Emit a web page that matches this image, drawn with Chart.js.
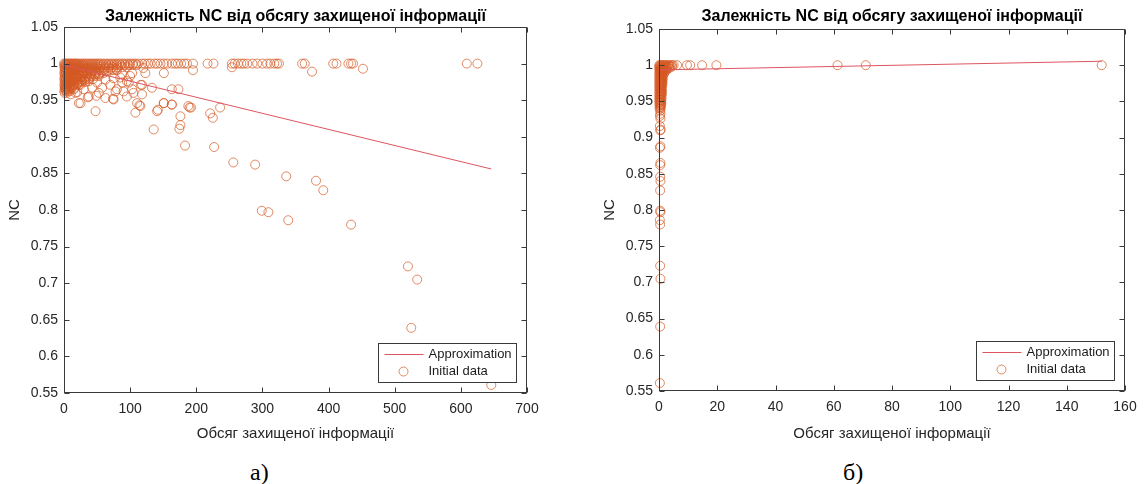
<!DOCTYPE html>
<html>
<head>
<meta charset="utf-8">
<script src="https://cdn.jsdelivr.net/npm/chart.js@4.4.0/dist/chart.umd.min.js"></script>
<style>
  body { margin: 0; background: #fff; width: 1147px; height: 484px; position: relative; overflow: hidden; }
  .box { position: absolute; top: 0; height: 448px; }
  .cap { position: absolute; top: 459px; font-family: "Liberation Serif", "Times New Roman", serif; font-size: 24px; color: #000; line-height: 27px; }
</style>
</head>
<body>
<div class="box" style="left:0; width:560px;"><canvas id="chartA"></canvas></div>
<div class="box" style="left:595px; width:552px;"><canvas id="chartB"></canvas></div>
<div class="cap" style="left:250px;">а)</div>
<div class="cap" style="left:843px;">б)</div>
<script>
// ---- data ----
const titleText = 'Залежність NC від обсягу захищеної інформації';
const xTitle = 'Обсяг захищеної інформації';
const yTitle = 'NC';
const lineLabel = 'Approximation';
const pointLabel = 'Initial data';

// a) approximation line end points
const leftFitX = [0, 646];
const leftFitNC = [0.998, 0.856];

// a) points lying on NC = 1
const leftTopRow = [
  [0,1],[2,1],[4,1],[6,1],[8,1],[10,1],[12,1],[14,1],[16,1],[18,1],[20,1],[23,1],[26,1],[29,1],
  [32,1],[35,1],[38,1],[41,1],[44,1],[47,1],[50,1],[53,1],[56,1],[60,1],[64,1],[68,1],[72,1],
  [76,1],[80,1],[84,1],[88,1],[92,1],[96,1],[100,1],[104,1],[108,1],[112,1],[118,1],[122,1],
  [127,1],[131,1],[137,1],[141,1],[146,1],[151,1],[156,1],[163,1],[168,1],[172,1],[177,1],
  [182,1],[186,1],[195,1],[217,1],[226,1],[254,1],[258,1],[263,1],[268,1],[272,1],[277,1],
  [285,1],[292,1],[300,1],[307,1],[312,1],[318,1],[322,1],[325,1],[360,1],[364,1],[407,1],
  [412,1],[430,1],[434,1],[437,1],[609,1],[625,1],
  [120,0.994],[151,0.987],[195,0.991],[254,0.995],[375,0.989],[452,0.993]
];

// a) dense cluster near the origin
const leftCluster = [
  [1,0.998],[3,0.998],[6,0.998],[9,0.998],[12,0.998],[15,0.998],[18,0.998],[21,0.998],[24,0.998],
  [27,0.998],[30,0.998],[34,0.998],[38,0.998],[42,0.998],[46,0.998],[50,0.998],[55,0.998],
  [60,0.998],[65,0.998],[70,0.998],[75,0.998],[80,0.998],[86,0.998],[92,0.998],[98,0.998],
  [104,0.998],[110,0.998],
  [0.5,0.995],[2,0.995],[5,0.995],[8,0.995],[11,0.995],[14,0.995],[17,0.995],[20,0.995],
  [24,0.995],[28,0.995],[32,0.995],[36,0.995],[40,0.995],[45,0.995],[50,0.995],[55,0.995],
  [61,0.995],[67,0.995],[74,0.995],[81,0.995],[88,0.995],[95,0.995],
  [2,0.993],[6,0.993],[10,0.993],[15,0.993],[20,0.993],[26,0.993],[32,0.993],[39,0.993],
  [46,0.993],[53,0.993],[62,0.993],[71,0.993],[79,0.993],
  [1,0.991],[4,0.991],[7,0.991],[10,0.991],[13,0.991],[17,0.991],[21,0.991],[25,0.991],
  [29,0.991],[33,0.991],[38,0.991],[43,0.991],[48,0.991],[54,0.991],[60,0.991],[67,0.991],
  [74,0.991],[80,0.991],
  [2,0.989],[6,0.989],[11,0.989],[16,0.989],[22,0.989],[28,0.989],[34,0.989],[41,0.989],
  [49,0.989],[57,0.989],[64,0.989],
  [0.5,0.987],[3,0.987],[6,0.987],[9,0.987],[13,0.987],[17,0.987],[21,0.987],[26,0.987],
  [31,0.987],[36,0.987],[42,0.987],[48,0.987],[54,0.987],[60,0.987],
  [2,0.985],[6,0.985],[11,0.985],[16,0.985],[22,0.985],[28,0.985],[34,0.985],[40,0.985],
  [46,0.985],[52,0.985],
  [1,0.983],[4,0.983],[7,0.983],[11,0.983],[15,0.983],[19,0.983],[24,0.983],[29,0.983],
  [35,0.983],[41,0.983],[47,0.983],[53,0.983],
  [2,0.981],[6,0.981],[10,0.981],[15,0.981],[20,0.981],[26,0.981],[32,0.981],[38,0.981],
  [0.5,0.979],[3,0.979],[6,0.979],[10,0.979],[14,0.979],[18,0.979],[23,0.979],[28,0.979],
  [33,0.979],[38,0.979],[44,0.979],
  [2,0.977],[6,0.977],[10,0.977],[15,0.977],[20,0.977],[26,0.977],[31,0.977],
  [1,0.975],[4,0.975],[8,0.975],[12,0.975],[17,0.975],[22,0.975],[27,0.975],[32,0.975],
  [2,0.973],[6,0.973],[10,0.973],[15,0.973],[20,0.973],
  [0.5,0.971],[3,0.971],[6,0.971],[10,0.971],[15,0.971],[20,0.971],[25,0.971],
  [2,0.969],[5,0.969],[9,0.969],[13,0.969],
  [1,0.967],[4,0.967],[8,0.967],[12,0.967],[16,0.967],
  [2,0.965],[5,0.965],[9,0.965],
  [0.5,0.963],[3,0.963],[6,0.963],[1,0.960],[4,0.960]
];

// a) scattered points below the cluster
const leftScatter = [
  [22.5,0.971],[15,0.965],[25,0.946],[47.7,0.935],[37.6,0.955],[52.6,0.960],[62.7,0.953],
  [75,0.951],[70,0.971],[88,0.974],[90,0.962],[95,0.955],[103,0.965],[110.5,0.946],[108,0.933],
  [115.5,0.942],[133,0.967],[150.7,0.946],[140.7,0.935],[163,0.965],[173,0.965],[163,0.944],
  [176,0.928],[188,0.942],[190,0.940],[123,0.987],[103,0.987],[88,0.986],[75,0.980],
  [62.7,0.978],[50,0.974],[37.6,0.976],[30,0.965],[7.4,0.974],[2.4,0.967],[17.5,0.960],
  [10,0.958],[42.7,0.967],[57.8,0.967],[80,0.965],[118,0.971],[95,0.976],[135.6,0.910],
  [174.4,0.911],[176,0.916],[183,0.888],[221,0.932],[225,0.926],[236,0.940],[227,0.886],
  [256,0.865],[289,0.862],[336,0.846],[381,0.840],[392,0.827],[299,0.799],[309,0.797],
  [339,0.786],[434,0.780],[520,0.723],[534,0.705],[525,0.639],[646,0.561],[22.5,0.946],
  [36,0.954],[49,0.956],[74,0.952],[78,0.962],[98,0.974],[8,0.962],[20,0.961],[100,0.983],
  [85,0.981],[114,0.943],[105,0.960],[118,0.958],[116,0.971],[142,0.937],[151,0.946],
  [163,0.944],[192,0.940]
];

// б) approximation line end points
const rightFitX = [0.01, 152];
const rightFitNC = [0.9935, 1.0055];

// б) points lying on NC = 1
const rightTopRow = [
  [0.1,1],[0.4,1],[0.8,1],[1.2,1],[1.6,1],[2,1],[2.5,1],[3,1],[3.5,1],[4,1],[4.5,1],[5,1],
  [6.2,1],[9.6,1],[10.7,1],[14.8,1],[19.7,1],[61.3,1],[71,1],[152,1]
];

// б) dense column near x = 0
const rightCluster = [
  [0.2,0.998],[0.7,0.998],[1.2,0.998],[1.8,0.998],[2.4,0.998],[3,0.998],[3.7,0.998],[4.4,0.998],
  [0.1,0.996],[0.5,0.996],[1,0.996],[1.5,0.996],[2.1,0.996],[2.8,0.996],[3.5,0.996],
  [0.3,0.994],[0.8,0.994],[1.3,0.994],[1.9,0.994],[2.6,0.994],
  [0.1,0.992],[0.6,0.992],[1.1,0.992],[1.7,0.992],[2.3,0.992],
  [0.3,0.99],[0.8,0.99],[1.3,0.99],[1.9,0.99],
  [0.1,0.988],[0.6,0.988],[1.1,0.988],[1.6,0.988],
  [0.3,0.986],[0.8,0.986],[1.3,0.986],[0.1,0.984],[0.6,0.984],[1.1,0.984],
  [0.3,0.982],[0.8,0.982],[1.3,0.982],[0.1,0.98],[0.6,0.98],[1.1,0.98],
  [0.3,0.978],[0.8,0.978],[1.2,0.978],[0.1,0.976],[0.6,0.976],[1,0.976],
  [0.3,0.974],[0.8,0.974],[1.2,0.974],[0.1,0.972],[0.6,0.972],[1,0.972],
  [0.3,0.97],[0.8,0.97],[0.1,0.968],[0.6,0.968],[1,0.968],
  [0.3,0.966],[0.8,0.966],[0.1,0.964],[0.6,0.964],[1,0.964],
  [0.3,0.962],[0.8,0.962],[0.1,0.96],[0.6,0.96],[1,0.96],
  [0.3,0.958],[0.8,0.958],[0.1,0.956],[0.6,0.956],[0.3,0.954],[0.9,0.954],
  [0.1,0.952],[0.6,0.952],[0.3,0.95],[0.8,0.95],[0.1,0.948],[0.6,0.948],
  [0.4,0.946],[0.8,0.946],[0.2,0.944],[0.6,0.944],[0.4,0.942],[0.2,0.94],[0.6,0.94],
  [0.4,0.937],[0.5,0.933],[0.3,0.93]
];

// б) the lower points along the axis
const rightScatter = [
  [0.5,0.926],[0.3,0.916],[0.6,0.911],[0.4,0.910],[0.5,0.888],[0.3,0.886],[0.5,0.865],
  [0.4,0.862],[0.4,0.846],[0.5,0.840],[0.4,0.827],[0.4,0.799],[0.5,0.797],[0.3,0.786],
  [0.4,0.780],[0.4,0.723],[0.5,0.705],[0.4,0.639],[0.3,0.561]
];

// ---- helpers ----
const toXY = pairs => pairs.map(p => ({ x: p[0], y: p[1] }));
const lineXY = (xs, ys) => xs.map((v, i) => ({ x: v, y: ys[i] }));

// box around the axes, inward tick marks and an in-plot legend (MATLAB look)
const matFrame = {
  id: 'matFrame',
  afterDraw(chart) {
    const { ctx, chartArea: a, scales: { x, y } } = chart;
    const L = Math.round(a.left) + 0.5, R = Math.round(a.right) - 0.5;
    const T = Math.round(a.top) + 0.5, B = Math.round(a.bottom) - 0.5;
    ctx.save();
    ctx.strokeStyle = '#3a3a3a';
    ctx.lineWidth = 1;
    ctx.strokeRect(L, T, R - L, B - T);
    ctx.beginPath();
    x.ticks.forEach(t => {
      const px = Math.round(x.getPixelForValue(t.value)) + 0.5;
      ctx.moveTo(px, B); ctx.lineTo(px, B - 5);
      ctx.moveTo(px, T); ctx.lineTo(px, T + 5);
    });
    y.ticks.forEach(t => {
      const py = Math.round(y.getPixelForValue(t.value)) + 0.5;
      ctx.moveTo(L, py); ctx.lineTo(L + 5, py);
      ctx.moveTo(R, py); ctx.lineTo(R - 5, py);
    });
    ctx.stroke();

    // legend
    const w = 138, h = 39;
    const lx = Math.round(a.right - 11 - w) + 0.5, ly = Math.round(a.bottom - 11 - h) + 0.5;
    ctx.fillStyle = '#fff';
    ctx.fillRect(lx, ly, w, h);
    ctx.strokeStyle = '#3a3a3a';
    ctx.strokeRect(lx, ly, w, h);
    ctx.font = '13px "Liberation Sans", Arial, sans-serif';
    ctx.fillStyle = '#1a1a1a';
    ctx.textBaseline = 'middle';
    chart.data.datasets.forEach((ds, i) => {
      const cy = ly + 11 + i * 17;
      ctx.strokeStyle = ds.borderColor;
      ctx.beginPath();
      if (ds.showLine) {
        ctx.moveTo(lx + 6, cy); ctx.lineTo(lx + 45, cy);
      } else {
        ctx.arc(lx + 25, cy, 4.5, 0, Math.PI * 2);
      }
      ctx.stroke();
      ctx.fillText(ds.label, lx + 50, cy);
    });
    ctx.restore();
  }
};

Chart.defaults.font.family = '"Liberation Sans", Arial, sans-serif';
Chart.defaults.color = '#262626';

function makeChart(id, cfg) {
  return new Chart(document.getElementById(id), {
    type: 'scatter',
    data: {
      datasets: [{
        label: lineLabel,
        data: cfg.fit,
        showLine: true,
        borderColor: '#dd5560',
        borderWidth: 1,
        pointRadius: 0,
        order: 0
      }, {
        label: pointLabel,
        data: cfg.points,
        borderColor: 'rgba(212,88,34,0.7)',
        backgroundColor: 'rgba(0,0,0,0)',
        borderWidth: 1,
        pointRadius: 4.5,
        pointHoverRadius: 4.5,
        clip: false,
        order: 1
      }]
    },
    options: {
      responsive: true,
      maintainAspectRatio: false,
      animation: false,
      layout: { padding: { left: 0, right: cfg.padRight, top: 0, bottom: 0 } },
      plugins: {
        legend: { display: false },
        tooltip: { enabled: false },
        title: {
          display: true,
          fullSize: false,
          text: titleText,
          color: '#000',
          font: { size: 16, weight: 'bold' },
          padding: { top: 7, bottom: cfg.titleBottom }
        }
      },
      scales: {
        x: {
          type: 'linear',
          min: 0,
          max: cfg.xMax,
          grid: { display: false, drawTicks: false },
          border: { display: false },
          ticks: { stepSize: cfg.xStep, padding: 8, font: { size: 14 }, maxRotation: 0 },
          title: { display: true, text: xTitle, font: { size: 15 }, padding: { top: 0, bottom: 5 } },
          afterFit(s) { s.height = cfg.xHeight; }
        },
        y: {
          min: 0.55,
          max: 1.05,
          grid: { display: false, drawTicks: false },
          border: { display: false },
          ticks: {
            stepSize: 0.05,
            padding: 6,
            font: { size: 14 },
            callback: v => String(+v.toFixed(2))
          },
          title: { display: true, text: yTitle, font: { size: 15 }, padding: { top: 6, bottom: 0 } },
          afterFit(s) { s.width = 64; }
        }
      }
    },
    plugins: [matFrame]
  });
}

makeChart('chartA', {
  fit: lineXY(leftFitX, leftFitNC),
  points: toXY(leftTopRow.concat(leftCluster, leftScatter)),
  xMax: 700, xStep: 100, padRight: 33, xHeight: 55, titleBottom: 0.8
});

makeChart('chartB', {
  fit: lineXY(rightFitX, rightFitNC),
  points: toXY(rightTopRow.concat(rightCluster, rightScatter)),
  xMax: 160, xStep: 20, padRight: 22, xHeight: 57, titleBottom: 2.8
});
</script>
</body>
</html>
